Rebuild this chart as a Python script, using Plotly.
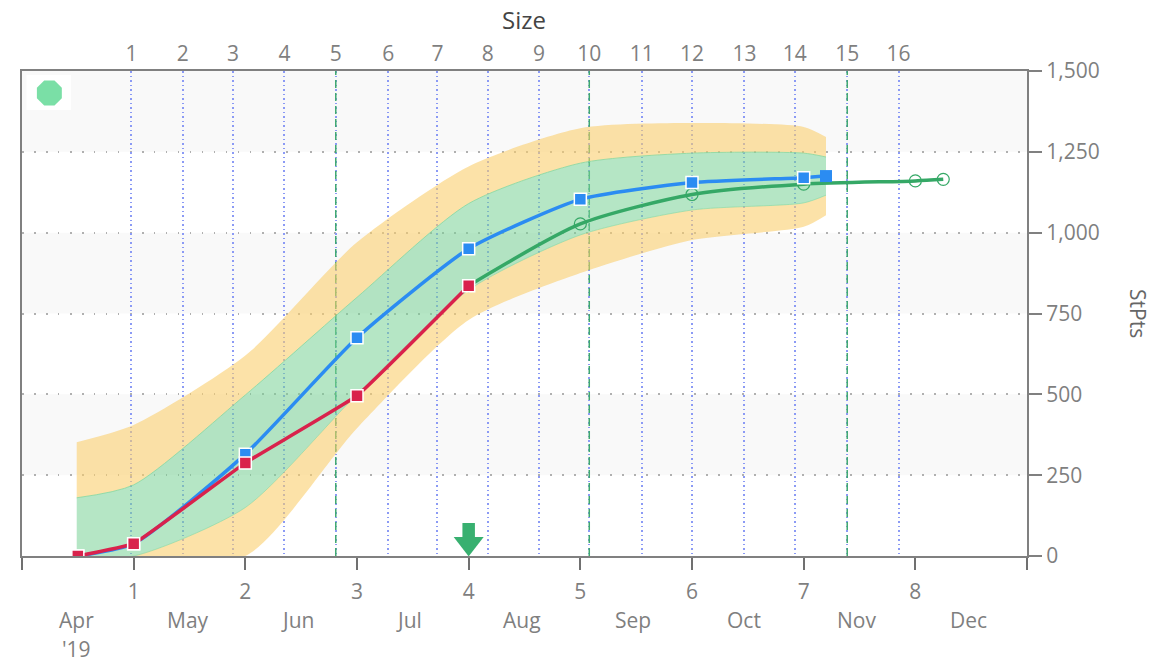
import plotly.graph_objects as go

FONT = "Open Sans"
sprint_x = [0, 1, 2, 3, 4, 5, 6, 7, 8, 9]
sprint_labels = ["", "1", "2", "3", "4", "5", "6", "7", "8", ""]
month_x = [0.49, 1.49, 2.47, 3.47, 4.48, 5.47, 6.47, 7.47, 8.48]
month_labels = ["Apr", "May", "Jun", "Jul", "Aug", "Sep", "Oct", "Nov", "Dec"]
size_x = [0.98, 1.44, 1.89, 2.35, 2.81, 3.28, 3.72, 4.17, 4.63, 5.08, 5.55, 6.0, 6.47, 6.92, 7.39, 7.85]
size_labels = [str(i) for i in range(1, 17)]
size_major_x = [2.81, 5.08, 7.39]
y_ticks = [0, 250, 500, 750, 1000, 1250, 1500]
grey_from = [250, 750, 1250]
grey_to = [500, 1000, 1500]

band_x = [0.49, 1, 2, 3, 4, 5, 6, 7, 7.2]
orange_up = [352, 405, 620, 970, 1205, 1323, 1339, 1327, 1296]
green_up = [180, 220, 498, 800, 1090, 1215, 1246, 1246, 1234]
green_low = [0, 0, 150, 500, 823, 993, 1070, 1092, 1116]
orange_low = [0, 0, 0, 395, 730, 875, 977, 1018, 1054]

blue_x = [0.5, 1, 2, 3, 4, 5, 6, 7, 7.2]
blue_y = [0, 38, 315, 675, 950, 1103, 1155, 1170, 1175]
red_x = [0.5, 1, 2, 3, 4]
red_y = [0, 38, 288, 496, 836]
green_x = [4, 5, 6, 7, 8, 8.25]
green_y = [836, 1027, 1118, 1150, 1160, 1165]
arrow_x = [4, 4]
arrow_stem_y = [102, 46]
arrow_head_x = [4]
arrow_head_y = [39]
status_x = [0.245]
status_y = [1432]

ORANGE = "rgba(250,205,105,0.58)"
GREEN = "rgba(120,210,150,0.55)"
fig = go.Figure()

# milestone lines sit beneath the bands
for v in size_major_x:
    fig.add_trace(go.Scatter(
        x=[v, v], y=[0, 1500], mode="lines", showlegend=False, hoverinfo="skip",
        line=dict(color="#3fa86f", width=1.5, dash="8px,5px"),
    ))


def band(y, fill, line=None):
    fig.add_trace(go.Scatter(
        x=band_x, y=y, mode="lines", showlegend=False, hoverinfo="skip",
        fill=fill[0], fillcolor=fill[1],
        line=dict(width=1 if line else 0, color=line or "rgba(0,0,0,0)", shape="spline", smoothing=0.7),
    ))


band(orange_low, ("none", "rgba(0,0,0,0)"))
band(green_low, ("tonexty", ORANGE), "rgba(130,215,160,0.6)")
band(green_up, ("tonexty", GREEN), "rgba(130,215,160,0.8)")
band(orange_up, ("tonexty", ORANGE))

fig.add_trace(go.Scatter(
    x=green_x, y=green_y, mode="lines+markers", showlegend=False,
    line=dict(color="#35a866", width=3.5, shape="spline", smoothing=0.7),
    marker=dict(symbol="circle-open", size=12, color="#35a866", line=dict(width=1.2, color="#35a866")),
))
fig.add_trace(go.Scatter(
    x=blue_x, y=blue_y, mode="lines+markers", showlegend=False,
    line=dict(color="#2b8cf2", width=3.5, shape="spline", smoothing=0.55),
    marker=dict(symbol="square", size=12, color="#2b8cf2",
                line=dict(width=[1.5] * 8 + [0], color="white")),
))
fig.add_trace(go.Scatter(
    x=red_x, y=red_y, mode="lines+markers", showlegend=False,
    line=dict(color="#d9224c", width=3.5, shape="spline", smoothing=0.25),
    marker=dict(symbol="square", size=12, color="#d9224c", line=dict(width=1.5, color="white")),
))
fig.add_trace(go.Scatter(
    x=arrow_x, y=arrow_stem_y, mode="lines", showlegend=False, hoverinfo="skip",
    line=dict(color="#38b070", width=12.5),
))
fig.add_trace(go.Scatter(
    x=arrow_head_x, y=arrow_head_y, mode="markers", showlegend=False, hoverinfo="skip",
    marker=dict(symbol="triangle-down", size=26, color="#38b070"),
))
fig.add_trace(go.Scatter(
    x=status_x, y=status_y, mode="markers", showlegend=False, hoverinfo="skip",
    marker=dict(symbol="octagon", size=27, color="#7adfa6"),
))
# invisible trace that activates the top axis
fig.add_trace(go.Scatter(x=size_x, y=[0] * len(size_x), xaxis="x2", mode="markers",
                         marker=dict(opacity=0), showlegend=False, hoverinfo="skip"))

for lo, hi in zip(grey_from, grey_to):
    fig.add_shape(type="rect", xref="x", x0=0, x1=9, yref="y", y0=lo, y1=hi,
                  fillcolor="#f9f9f9", line_width=0, layer="below")
fig.add_shape(type="rect", xref="x", yref="y", x0=0.04, x1=0.44, y0=1379, y1=1488,
              fillcolor="white", line_width=0, layer="below")

tick_font = dict(family=FONT, size=21, color="#7f7f7f")
for x, t in zip(month_x, month_labels):
    fig.add_annotation(x=x, xref="x", y=-0.132, yref="paper", yanchor="middle", text=t,
                       showarrow=False, font=tick_font)
fig.add_annotation(x=month_x[0], xref="x", y=-0.192, yref="paper", yanchor="middle", text="'19",
                   showarrow=False, font=tick_font)
fig.add_annotation(x=1.1104, xref="paper", xanchor="center", y=0.499, yref="paper", yanchor="middle",
                   text="StPts", textangle=90, showarrow=False,
                   font=dict(family=FONT, size=21, color="#666666"))
fig.add_annotation(x=0.4995, xref="paper", xanchor="center", y=1.107, yref="paper", yanchor="middle",
                   text="Size", showarrow=False, font=dict(family=FONT, size=24, color="#444444"))

fig.update_layout(
    width=1176, height=663, margin=dict(l=22, r=149, t=71, b=107),
    paper_bgcolor="white", plot_bgcolor="white", showlegend=False,
    xaxis=dict(range=[0, 9], tickmode="array", tickvals=sprint_x, ticktext=sprint_labels,
               ticks="outside", ticklen=12, tickwidth=2, tickcolor="#707070", ticklabelstandoff=4,
               showgrid=False, zeroline=False, showline=True, linecolor="#808080", linewidth=2,
               tickfont=tick_font),
    xaxis2=dict(range=[0, 9], overlaying="x", side="top", tickmode="array", tickvals=size_x, ticktext=size_labels,
                ticks="", showgrid=True, gridcolor="#8b9af5", griddash="1.5px,3px", gridwidth=1.5,
                zeroline=False, showline=True, linecolor="#808080", linewidth=2, tickfont=tick_font),
    yaxis=dict(range=[0, 1500], side="right", tickmode="array", tickvals=y_ticks, tickformat=",",
               ticks="outside", ticklen=13, tickwidth=2, tickcolor="#808080",
               showgrid=True, gridcolor="#b0b0b0", griddash="1.5px,10.5px", gridwidth=1.5,
               zeroline=False, showline=True, linecolor="#808080", linewidth=2, mirror=True,
               tickfont=tick_font),
)
fig.write_html("out.html", config={"displayModeBar": False},
               post_script="document.body.style.margin='0';document.body.style.overflow='hidden';")
